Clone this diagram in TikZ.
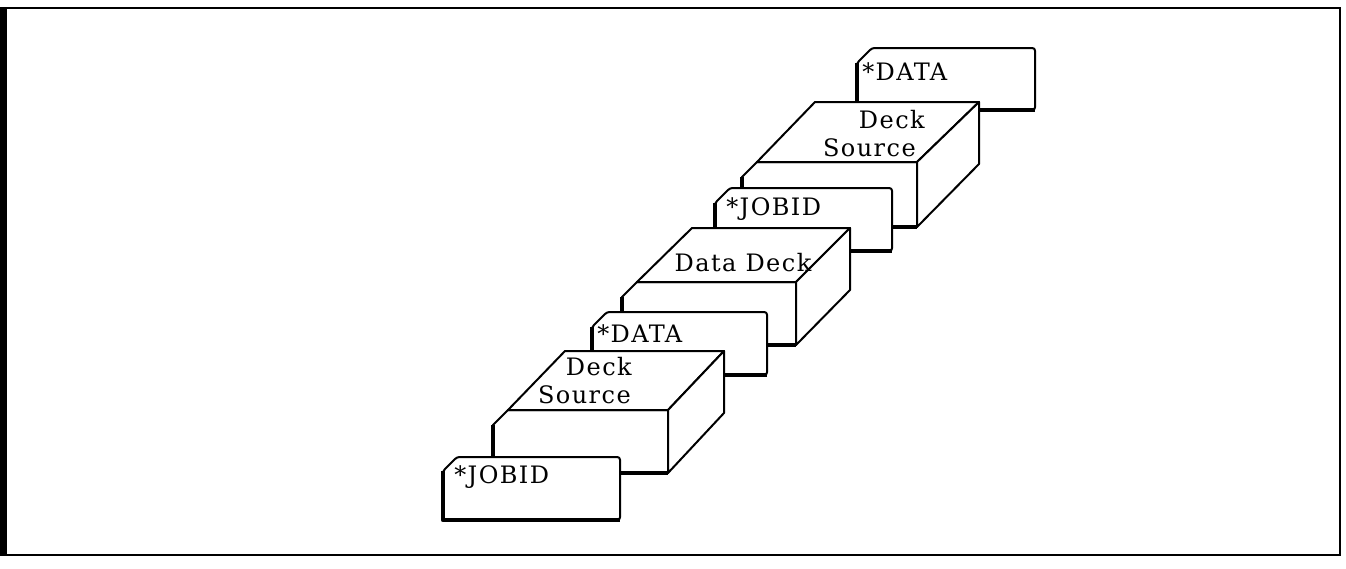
\documentclass[tikz,border=0pt]{standalone}
\usepackage{fontspec}
\setmainfont{DejaVu Serif}[LetterSpace=6]
\usepackage{tikz}
\usetikzlibrary{positioning,calc}

\begin{document}
\begin{tikzpicture}[x=0.75pt,y=-0.75pt,
		face/.style={draw=black,fill=white,line width=1.5pt,line join=round},
		heavy/.style={line width=3.6pt,line join=round},
		lbl/.style={font=\fontsize{18}{21}\selectfont,inner sep=0pt}]
		\useasboundingbox (0,0) rectangle (1346,568);
		
		% frame
		\draw[line width=1.5pt] (4,8) -- (1340,8) -- (1340,555) -- (4,555);
		\draw[line width=5pt] (3.5,7) -- (3.5,556);
		
		% last card
		\draw[face,rounded corners=2] (857,63) -- (872,48) -- (1035,48) -- (1035,110) -- (857,110) -- cycle;
		\draw[heavy] (857,63) -- (857,110) -- (1035,110);
		\node[lbl,anchor=base west] (dataB) at (862,80) {*DATA};
		
		% upper source deck
		\draw[face] (742,177) -- (757,162) -- (917,162) -- (917,227) -- (742,227) -- cycle;
		\draw[face] (757,162) -- (815,102) -- (979,102) -- (917,162) -- cycle;
		\draw[face] (917,162) -- (979,102) -- (979,164) -- (917,227) -- cycle;
		\draw[heavy] (742,177) -- (742,227) -- (917,227);
		\node[lbl,anchor=base east] (deckB) at (925,128) {Deck};
		\node[lbl,anchor=base east] (srcB) at (916,156) {Source};
		
		% second job card
		\draw[face,rounded corners=2] (715,203) -- (730,188) -- (892,188) -- (892,251) -- (715,251) -- cycle;
		\draw[heavy] (715,203) -- (715,251) -- (892,251);
		\node[lbl,anchor=base west] (jobidB) at (726,215) {*JOBID};
		
		% data deck
		\draw[face] (622,297) -- (637,282) -- (796,282) -- (796,345) -- (622,345) -- cycle;
		\draw[face] (637,282) -- (692,228) -- (850,228) -- (796,282) -- cycle;
		\draw[face] (796,282) -- (850,228) -- (850,290) -- (796,345) -- cycle;
		\draw[heavy] (622,297) -- (622,345) -- (796,345);
		\node[lbl,anchor=base] (datadeck) at (743,271) {Data Deck};
		
		% first data card
		\draw[face,rounded corners=2] (592,327) -- (607,312) -- (767,312) -- (767,375) -- (592,375) -- cycle;
		\draw[heavy] (592,327) -- (592,375) -- (767,375);
		\node[lbl,anchor=base west] (dataA) at (597,342) {*DATA};
		
		% lower source deck
		\draw[face] (493,425) -- (508,410) -- (668,410) -- (668,473) -- (493,473) -- cycle;
		\draw[face] (508,410) -- (565,351) -- (724,351) -- (668,410) -- cycle;
		\draw[face] (668,410) -- (724,351) -- (724,413) -- (668,473) -- cycle;
		\draw[heavy] (493,425) -- (493,473) -- (668,473);
		\node[lbl,anchor=base east] (deckA) at (632,375) {Deck};
		\node[lbl,anchor=base east] (srcA) at (631,403) {Source};
		
		% first job card
		\draw[face,rounded corners=2] (443,471) -- (457,457) -- (620,457) -- (620,520) -- (443,520) -- cycle;
		\draw[heavy] (443,471) -- (443,520) -- (620,520);
		\node[lbl,anchor=base west] (jobidA) at (454,483) {*JOBID};
	\end{tikzpicture}
\end{document}
